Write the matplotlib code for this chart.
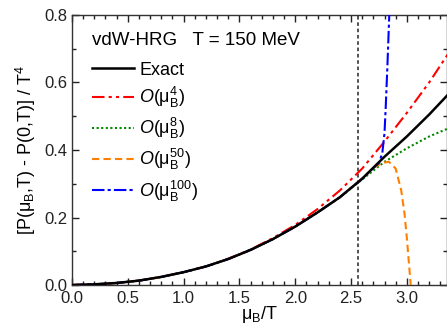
import matplotlib
matplotlib.use("Agg")
import matplotlib.pyplot as plt
from matplotlib.ticker import MultipleLocator

plt.rcParams['font.family'] = ['Liberation Sans', 'DejaVu Sans']
plt.rcParams['mathtext.fontset'] = 'custom'
plt.rcParams['mathtext.rm'] = 'Liberation Sans'
plt.rcParams['mathtext.it'] = 'Liberation Sans:italic'
plt.rcParams['mathtext.bf'] = 'Liberation Sans:bold'

# ---- data ----
mu_exact = [0.0, 0.2, 0.4, 0.6, 0.8, 1.0, 1.2, 1.4, 1.6, 1.8, 2.0, 2.2, 2.4, 2.6, 2.8, 3.0, 3.2, 3.4]
p_exact = [0.0, 0.002, 0.006, 0.013, 0.024, 0.038, 0.055, 0.077, 0.104, 0.136, 0.173, 0.215, 0.26, 0.315, 0.38, 0.44, 0.505, 0.575]

mu_o4 = [0.0, 0.2, 0.4, 0.6, 0.8, 1.0, 1.2, 1.4, 1.6, 1.8, 2.0, 2.2, 2.4, 2.6, 2.8, 3.0, 3.2, 3.4]
p_o4 = [0.0, 0.002, 0.006, 0.013, 0.024, 0.038, 0.055, 0.078, 0.105, 0.139, 0.178, 0.225, 0.28, 0.345, 0.425, 0.51, 0.60, 0.70]

mu_o8 = [0.0, 0.2, 0.4, 0.6, 0.8, 1.0, 1.2, 1.4, 1.6, 1.8, 2.0, 2.2, 2.4, 2.6, 2.8, 3.0, 3.2, 3.4]
p_o8 = [0.0, 0.002, 0.006, 0.013, 0.024, 0.038, 0.055, 0.077, 0.104, 0.136, 0.173, 0.215, 0.26, 0.313, 0.365, 0.405, 0.44, 0.468]

mu_o50 = [0.0, 0.2, 0.4, 0.6, 0.8, 1.0, 1.2, 1.4, 1.6, 1.8, 2.0, 2.2, 2.4, 2.6, 2.7, 2.78, 2.84, 2.9, 2.95, 2.98, 3.0, 3.02, 3.035, 3.05]
p_o50 = [0.0, 0.002, 0.006, 0.013, 0.024, 0.038, 0.055, 0.077, 0.104, 0.136, 0.173, 0.215, 0.26, 0.315, 0.347, 0.362, 0.365, 0.345, 0.28, 0.21, 0.14, 0.06, 0.0, -0.1]

mu_o100 = [0.0, 0.2, 0.4, 0.6, 0.8, 1.0, 1.2, 1.4, 1.6, 1.8, 2.0, 2.2, 2.4, 2.6, 2.7, 2.75, 2.78, 2.8, 2.81, 2.825, 2.835, 2.845, 2.86]
p_o100 = [0.0, 0.002, 0.006, 0.013, 0.024, 0.038, 0.055, 0.077, 0.104, 0.136, 0.173, 0.215, 0.26, 0.315, 0.347, 0.362, 0.39, 0.45, 0.52, 0.64, 0.73, 0.82, 1.0]

mu_line = 2.56

labels = ['Exact', r'$\mathit{O}(\mathrm{μ}_\mathrm{B}^\mathrm{4})$', r'$\mathit{O}(\mathrm{μ}_\mathrm{B}^\mathrm{8})$',
          r'$\mathit{O}(\mathrm{μ}_\mathrm{B}^\mathrm{50})$', r'$\mathit{O}(\mathrm{μ}_\mathrm{B}^\mathrm{100})$']
title = 'vdW-HRG   T = 150 MeV'

fig = plt.figure(figsize=(4.47, 3.29), dpi=100)
ax = fig.add_axes([72/447, 1-285/329, 1-72/447, (285-15)/329])

ax.axvline(mu_line, color='#444444', lw=1.3, ls=(0, (2, 1.5)), zorder=1)
ax.plot(mu_exact, p_exact, color='black', lw=1.8, label=labels[0], zorder=6)
ax.plot(mu_o4, p_o4, color='#ff0000', lw=1.5, ls=(0, (6, 2, 1.5, 2, 1.5, 2)), label=labels[1], zorder=3)
ax.plot(mu_o8, p_o8, color='#008800', lw=1.5, ls=(0, (1, 1.2)), label=labels[2], zorder=3)
ax.plot(mu_o50, p_o50, color='#ff8000', lw=1.5, ls=(0, (3.5, 2)), label=labels[3], zorder=4)
ax.plot(mu_o100, p_o100, color='#0000ff', lw=1.5, ls=(0, (6, 1.5, 1.5, 1.5)), label=labels[4], zorder=5)

ax.set_xlim(0, 3.36)
ax.set_ylim(0, 0.8)
ax.xaxis.set_major_locator(MultipleLocator(0.5))
ax.xaxis.set_minor_locator(MultipleLocator(0.1))
ax.yaxis.set_major_locator(MultipleLocator(0.2))
ax.yaxis.set_minor_locator(MultipleLocator(0.1))
ax.tick_params(which='both', direction='in', top=True, right=True, labelsize=12, colors='#222222')
ax.tick_params(which='major', length=5, width=1)
ax.tick_params(which='minor', length=3, width=1)
ax.tick_params(axis='x', pad=4)
ax.tick_params(axis='y', pad=3)
for s in ax.spines.values():
    s.set_color('#333333')
    s.set_linewidth(1.0)

ax.set_xlabel(r'$\mathrm{μ}_\mathrm{B}$/T', fontsize=13, labelpad=-1)
ax.set_ylabel(r'[P($\mathrm{μ}_\mathrm{B}$,T) - P(0,T)] / T$^\mathrm{4}$', fontsize=13, labelpad=5)

ax.text(0.053, 0.907, title, transform=ax.transAxes, fontsize=13.5, ha='left', va='center')

leg = ax.legend(loc='upper left', frameon=False, fontsize=13,
                handlelength=2.3, handletextpad=0.3, labelspacing=0.34,
                borderaxespad=0.0, bbox_to_anchor=(0.035, 0.854))

fig.savefig('out.png', dpi=100)
